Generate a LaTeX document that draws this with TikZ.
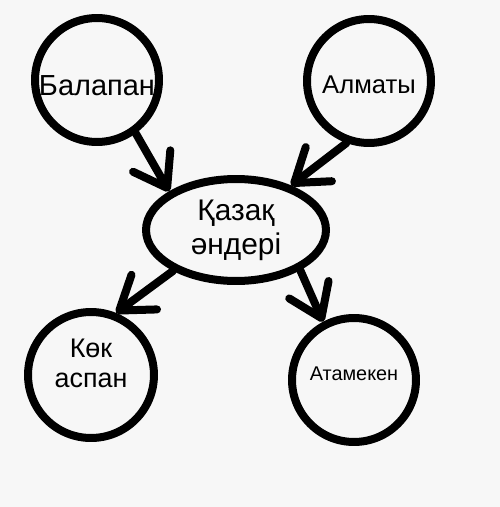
\documentclass[tikz,border=0pt]{standalone}
\usepackage{fontspec}
\setmainfont{Liberation Sans}
\usetikzlibrary{shapes.geometric, arrows.meta}

\begin{document}
\begin{tikzpicture}[x=0.02cm, y=-0.02cm,
    bubble/.style={draw, circle, line width=0.16cm, minimum size=2.48cm, inner sep=0pt, align=center},
    arr/.style={line width=0.16cm, line cap=round,
      -{Straight Barb[length=0.62cm, width=0.86cm, line cap=round, line join=round]}}]
    \fill[white!97!black] (0,0) rectangle (500,507);
    \useasboundingbox (0,0) rectangle (500,507);

    \node[draw, ellipse, line width=0.16cm, minimum width=3.6cm, minimum height=2.04cm,
      inner sep=0pt, align=center, font=\fontsize{17}{19.3}\selectfont]
      (K) at (236,230) {Қазақ\\әндері};

    \node[bubble, text height=17.5pt, font=\fontsize{16.5}{19}\selectfont] (B) at (97,80) {Балапан};
    \node[bubble, text height=13.9pt, font=\fontsize{14.6}{17}\selectfont] (A) at (369,81) {Алматы};
    \node[bubble, minimum size=2.52cm, text depth=13.7pt, font=\fontsize{15.3}{17}\selectfont]
      (KA) at (91,375) {Көк\\аспан};
    \node[bubble, text depth=6.8pt, font=\fontsize{11.3}{13}\selectfont] (At) at (354,380) {Атамекен};

    \draw[arr] (B.-54) -- (K.150);
    \draw[arr] (A.250) -- (K.39);
    \draw[arr] (K.213) -- (KA.68);
    \draw[arr] (K.-32) -- (At.118);
  \end{tikzpicture}
\end{document}
